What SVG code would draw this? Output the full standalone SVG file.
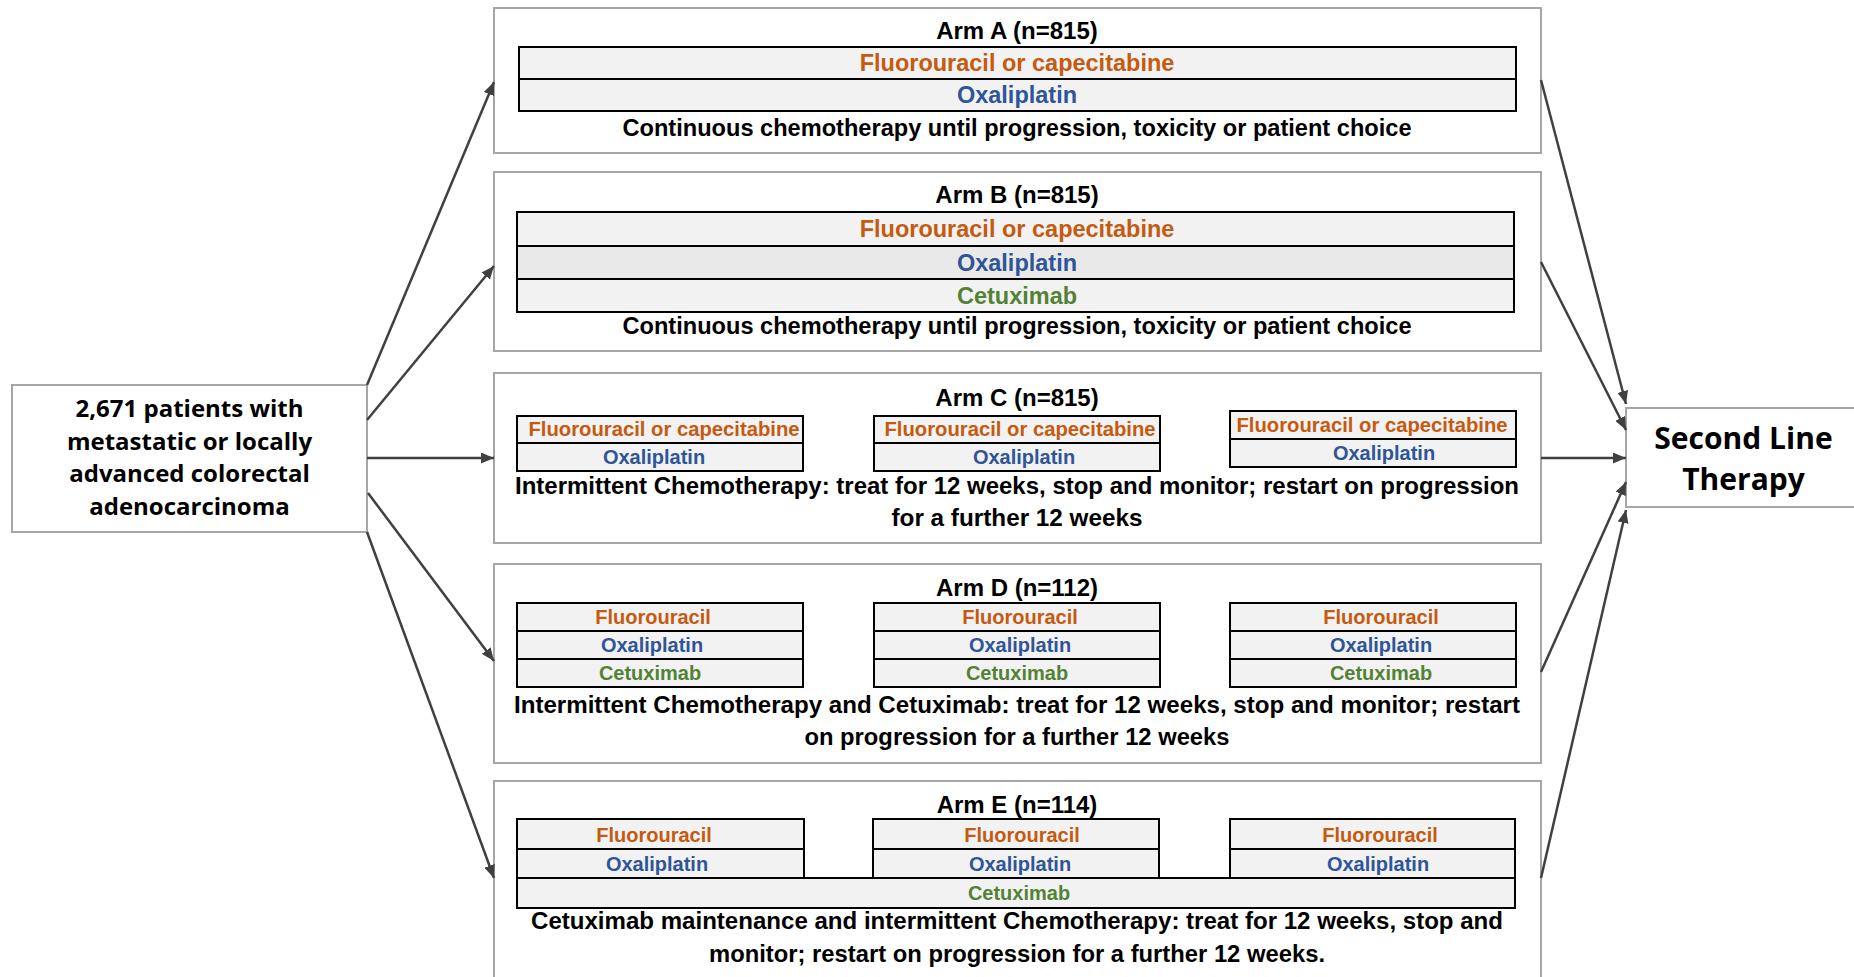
<svg xmlns="http://www.w3.org/2000/svg" width="1854" height="977" viewBox="0 0 1854 977">
<style>
.box{fill:#fff;stroke:#a6a6a6;stroke-width:2}
.tbl{fill:#f2f2f2;stroke:#000;stroke-width:2}
.tbl2{fill:#e9e9e9;stroke:#000;stroke-width:2}
.t{font-family:"Liberation Sans",Arial,sans-serif;font-weight:bold;text-anchor:middle;fill:#000}
.ti{font-size:24px}
.dg{font-size:23.5px}
.sm{font-size:20px}
.ds{font-size:23px}
.o{fill:#c55a11}.b{fill:#2f5597}.g{fill:#548235}
.big{font-family:"Open Sans","Liberation Sans",sans-serif;font-weight:bold;text-anchor:middle;fill:#000}
.conn{stroke:#404040;stroke-width:2.5;fill:none;marker-end:url(#ah)}
</style>
<defs>
<marker id="ah" markerUnits="userSpaceOnUse" markerWidth="14" markerHeight="11" refX="13" refY="5.5" orient="auto">
<path d="M0,0 L13,5.5 L0,11 z" fill="#404040"/>
</marker>
</defs>
<rect width="1854" height="977" fill="#fff"/>

<g id="input">
<rect class="box" x="12" y="385" width="355" height="147"/>
<text class="big" font-size="24" x="189.5" y="417">2,671 patients with</text>
<text class="big" font-size="24" x="189.5" y="450">metastatic or locally</text>
<text class="big" font-size="24" x="189.5" y="482">advanced colorectal</text>
<text class="big" font-size="24" x="189.5" y="515">adenocarcinoma</text>
</g>

<g id="armA">
<rect class="box" x="494" y="8" width="1047" height="145"/>
<text class="t ti" x="1017" y="39">Arm A (n=815)</text>
<rect class="tbl" x="519" y="47" width="997" height="32"/>
<rect class="tbl" x="519" y="79" width="997" height="32"/>
<text class="t dg o" x="1017" y="71">Fluorouracil or capecitabine</text>
<text class="t dg b" x="1017" y="103">Oxaliplatin</text>
<text class="t ds" x="1017" y="136" textLength="789" lengthAdjust="spacingAndGlyphs">Continuous chemotherapy until progression, toxicity or patient choice</text>
</g>

<g id="armB">
<rect class="box" x="494" y="172" width="1047" height="179"/>
<text class="t ti" x="1017" y="203">Arm B (n=815)</text>
<rect class="tbl" x="517" y="212" width="997" height="34"/>
<rect class="tbl2" x="517" y="246" width="997" height="33"/>
<rect class="tbl" x="517" y="279" width="997" height="33"/>
<text class="t dg o" x="1017" y="237">Fluorouracil or capecitabine</text>
<text class="t dg b" x="1017" y="271">Oxaliplatin</text>
<text class="t dg g" x="1017" y="304">Cetuximab</text>
<text class="t ds" x="1017" y="334" textLength="789" lengthAdjust="spacingAndGlyphs">Continuous chemotherapy until progression, toxicity or patient choice</text>
</g>

<g id="armC">
<rect class="box" x="494" y="373" width="1047" height="170"/>
<text class="t ti" x="1017" y="406">Arm C (n=815)</text>
<rect class="tbl" x="517" y="416" width="286" height="27"/>
<rect class="tbl" x="517" y="443" width="286" height="28"/>
<rect class="tbl" x="874" y="416" width="286" height="27"/>
<rect class="tbl" x="874" y="443" width="286" height="28"/>
<rect class="tbl" x="1230" y="411" width="286" height="28"/>
<rect class="tbl" x="1230" y="439" width="286" height="28"/>
<text class="t sm o" x="664" y="436" textLength="271" lengthAdjust="spacingAndGlyphs">Fluorouracil or capecitabine</text>
<text class="t sm b" x="654" y="464">Oxaliplatin</text>
<text class="t sm o" x="1020" y="436" textLength="271" lengthAdjust="spacingAndGlyphs">Fluorouracil or capecitabine</text>
<text class="t sm b" x="1024" y="464">Oxaliplatin</text>
<text class="t sm o" x="1372" y="432" textLength="271" lengthAdjust="spacingAndGlyphs">Fluorouracil or capecitabine</text>
<text class="t sm b" x="1384" y="460">Oxaliplatin</text>
<text class="t ds" x="1017" y="494" textLength="1004" lengthAdjust="spacingAndGlyphs">Intermittent Chemotherapy: treat for 12 weeks, stop and monitor; restart on progression</text>
<text class="t ds" x="1017" y="526" textLength="251" lengthAdjust="spacingAndGlyphs">for a further 12 weeks</text>
</g>

<g id="armD">
<rect class="box" x="494" y="564" width="1047" height="199"/>
<text class="t ti" x="1017" y="596">Arm D (n=112)</text>
<rect class="tbl" x="517" y="603" width="286" height="28"/>
<rect class="tbl" x="517" y="631" width="286" height="28"/>
<rect class="tbl" x="517" y="659" width="286" height="28"/>
<rect class="tbl" x="874" y="603" width="286" height="28"/>
<rect class="tbl" x="874" y="631" width="286" height="28"/>
<rect class="tbl" x="874" y="659" width="286" height="28"/>
<rect class="tbl" x="1230" y="603" width="286" height="28"/>
<rect class="tbl" x="1230" y="631" width="286" height="28"/>
<rect class="tbl" x="1230" y="659" width="286" height="28"/>
<text class="t sm o" x="653" y="624">Fluorouracil</text>
<text class="t sm b" x="652" y="652">Oxaliplatin</text>
<text class="t sm g" x="650" y="680">Cetuximab</text>
<text class="t sm o" x="1020" y="624">Fluorouracil</text>
<text class="t sm b" x="1020" y="652">Oxaliplatin</text>
<text class="t sm g" x="1017" y="680">Cetuximab</text>
<text class="t sm o" x="1381" y="624">Fluorouracil</text>
<text class="t sm b" x="1381" y="652">Oxaliplatin</text>
<text class="t sm g" x="1381" y="680">Cetuximab</text>
<text class="t ds" x="1017" y="713" textLength="1006" lengthAdjust="spacingAndGlyphs">Intermittent Chemotherapy and Cetuximab: treat for 12 weeks, stop and monitor; restart</text>
<text class="t ds" x="1017" y="745" textLength="425" lengthAdjust="spacingAndGlyphs">on progression for a further 12 weeks</text>
</g>

<g id="armE">
<rect class="box" x="494" y="781" width="1047" height="220"/>
<text class="t ti" x="1017" y="813">Arm E (n=114)</text>
<rect class="tbl" x="517" y="819" width="287" height="30"/>
<rect class="tbl" x="517" y="849" width="287" height="29"/>
<rect class="tbl" x="873" y="819" width="286" height="30"/>
<rect class="tbl" x="873" y="849" width="286" height="29"/>
<rect class="tbl" x="1230" y="819" width="285" height="30"/>
<rect class="tbl" x="1230" y="849" width="285" height="29"/>
<rect class="tbl" x="517" y="878" width="998" height="30"/>
<text class="t sm o" x="654" y="842">Fluorouracil</text>
<text class="t sm b" x="657" y="871">Oxaliplatin</text>
<text class="t sm o" x="1022" y="842">Fluorouracil</text>
<text class="t sm b" x="1020" y="871">Oxaliplatin</text>
<text class="t sm o" x="1380" y="842">Fluorouracil</text>
<text class="t sm b" x="1378" y="871">Oxaliplatin</text>
<text class="t sm g" x="1019" y="900">Cetuximab</text>
<text class="t ds" x="1017" y="929" textLength="972" lengthAdjust="spacingAndGlyphs">Cetuximab maintenance and intermittent Chemotherapy: treat for 12 weeks, stop and</text>
<text class="t ds" x="1017" y="962" textLength="616" lengthAdjust="spacingAndGlyphs">monitor; restart on progression for a further 12 weeks.</text>
</g>

<g id="second">
<rect class="box" x="1626" y="408" width="240" height="99"/>
<text class="big" font-size="30" x="1743.5" y="449">Second Line</text>
<text class="big" font-size="30" x="1743.5" y="490">Therapy</text>
</g>

<g id="connectors">
<line class="conn" x1="367" y1="385" x2="494" y2="82"/>
<line class="conn" x1="367" y1="420" x2="494" y2="266"/>
<line class="conn" x1="367" y1="458" x2="494" y2="458"/>
<line class="conn" x1="368" y1="493" x2="494" y2="661"/>
<line class="conn" x1="367" y1="532" x2="494" y2="878"/>
<line class="conn" x1="1541" y1="80" x2="1626" y2="404"/>
<line class="conn" x1="1541" y1="262" x2="1626" y2="430"/>
<line class="conn" x1="1541" y1="458" x2="1626" y2="458"/>
<line class="conn" x1="1541" y1="672" x2="1626" y2="482"/>
<line class="conn" x1="1541" y1="878" x2="1626" y2="510"/>
</g>
</svg>
